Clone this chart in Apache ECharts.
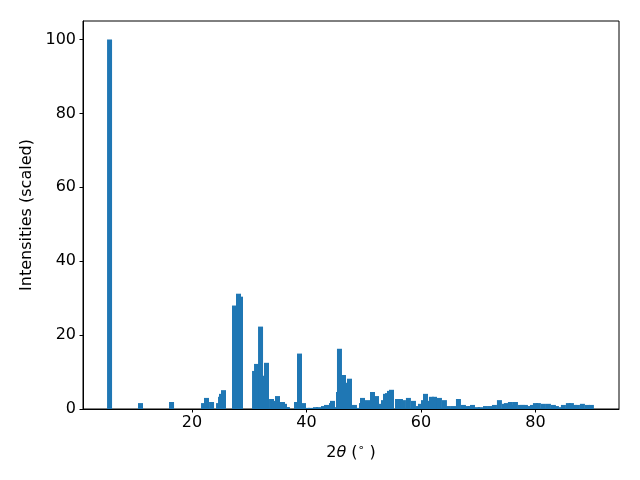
<!DOCTYPE html>
<html>
<head>
<meta charset="utf-8">
<script src="https://cdn.jsdelivr.net/npm/echarts@6/dist/echarts.min.js"></script>
<style>html,body{margin:0;padding:0;background:#fff}#c{width:640px;height:480px}</style>
</head>
<body>
<div id="c"></div>
<script>
// 2θ positions (degrees) of the bars, in draw order
const twoTheta = [
  5.59, 11.00, 16.42,
  22.01, 22.53, 23.41, 24.63, 24.98, 25.15, 25.50,
  27.42, 28.47, 28.12,
  30.92, 31.27, 31.97, 32.84, 33.01, 33.89, 34.24, 34.41, 34.93, 35.81, 36.16, 36.51, 36.68,
  38.25, 38.78, 39.48, 40.17, 40.70, 41.57, 42.10, 42.97, 43.49, 44.19, 44.37, 44.54,
  45.24, 45.59, 45.76, 46.46, 46.64, 46.99, 47.51, 48.38, 49.08, 49.61, 49.78, 50.66,
  51.53, 52.23, 52.93, 53.10, 53.45, 53.80, 54.15, 54.50, 54.85, 55.90, 56.42, 56.94,
  57.81, 58.69, 59.56, 59.91, 60.44, 60.79, 61.66, 61.83, 62.36, 63.23, 63.58, 64.10,
  64.80, 65.68, 66.55, 67.42, 67.95, 68.30, 68.65, 69.00, 69.87, 70.39, 71.27, 72.14,
  72.84, 73.71, 74.59, 74.93, 75.63, 76.33, 76.51, 77.38, 77.73, 78.25, 78.95, 79.48,
  80.00, 80.52, 81.40, 82.27, 83.14, 83.67, 84.54, 84.89, 85.76, 86.29, 86.81, 87.34,
  88.21, 89.08, 89.78
];
// scaled intensities
const intensity = [
  100, 1.6, 1.9,
  1.6, 3.0, 1.9, 1.6, 3.3, 4.1, 5.1,
  28.0, 30.4, 31.2,
  10.3, 12.2, 22.3, 9.0, 12.5, 2.7, 2.2, 1.4, 3.5, 1.9, 1.4, 0.5, 0.5,
  1.9, 15.0, 1.6, 0.3, 0.3, 0.5, 0.5, 0.8, 1.1, 0.3, 1.6, 2.2,
  0.5, 4.6, 16.3, 9.2, 2.7, 7.1, 8.2, 1.1, 0.3, 1.6, 3.0, 2.4,
  4.6, 3.5, 0.5, 1.4, 2.4, 4.1, 4.3, 4.9, 5.2, 2.7, 2.7, 2.4,
  3.0, 2.2, 0.8, 1.4, 2.4, 4.1, 2.2, 3.3, 3.3, 3.0, 0.3, 2.4,
  0.8, 0.8, 2.7, 1.1, 0.8, 0.5, 0.8, 1.1, 0.5, 0.5, 0.8, 0.8,
  1.1, 2.4, 1.4, 1.6, 1.9, 1.1, 1.9, 1.1, 1.1, 1.1, 0.8, 1.1,
  1.6, 1.6, 1.4, 1.4, 1.1, 0.8, 0.5, 1.1, 1.6, 1.6, 1.1, 1.1,
  1.4, 1.1, 1.1
];
const xTicks = [20, 40, 60, 80];
const yTicks = [0, 20, 40, 60, 80, 100];

const data = twoTheta.map((x, i) => [x, intensity[i]]);
const font = 'DejaVu Sans';
const chart = echarts.init(document.getElementById('c'), null, {renderer: 'canvas'});
chart.setOption({
  animation: false,
  backgroundColor: '#ffffff',
  grid: {left: 83, right: 21, top: 21, bottom: 71, show: true, borderColor: '#000', borderWidth: 1, backgroundColor: 'transparent'},
  xAxis: {
    type: 'value', min: 0.95, max: 94.6,
    axisLine: {show: true, onZero: false, lineStyle: {color: '#000', width: 1}},
    axisTick: {show: true, length: 3.5, inside: false, lineStyle: {color: '#000'}, customValues: xTicks},
    axisLabel: {color: '#000', fontFamily: font, fontSize: 16, margin: 6, customValues: xTicks},
    splitLine: {show: false},
    name: '{a|2}{i|θ}{a| (}{s|∘}{a| )}',
    nameLocation: 'middle', nameGap: 34,
    nameTextStyle: {
      rich: {
        a: {fontFamily: font, fontSize: 16, color: '#000'},
        i: {fontFamily: font, fontSize: 16, fontStyle: 'italic', color: '#000'},
        s: {fontFamily: font, fontSize: 11, color: '#000', verticalAlign: 'top', padding: [0, 0, 8, 0]}
      }
    }
  },
  yAxis: {
    type: 'value', min: 0, max: 105,
    axisLine: {show: true, lineStyle: {color: '#000', width: 1}},
    axisTick: {show: true, length: 3.5, inside: false, lineStyle: {color: '#000'}, customValues: yTicks},
    axisLabel: {color: '#000', fontFamily: font, fontSize: 16, margin: 7, customValues: yTicks},
    splitLine: {show: false},
    name: 'Intensities (scaled)',
    nameLocation: 'middle', nameGap: 48, nameRotate: 90,
    nameTextStyle: {fontFamily: font, fontSize: 16, color: '#000'}
  },
  series: [{
    type: 'bar',
    data: data,
    barWidth: 5,
    itemStyle: {color: '#1f77b4'},
    clip: true
  }]
});
</script>
</body>
</html>
